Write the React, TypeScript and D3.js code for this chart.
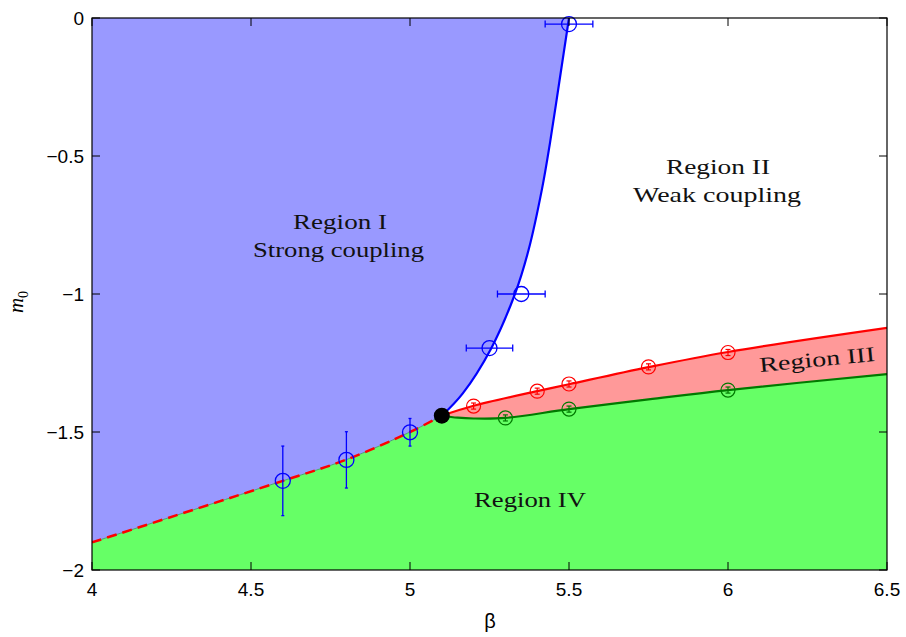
import React from "react";
import * as d3 from "d3";

// ---- data ----
const xTicks = [4, 4.5, 5, 5.5, 6, 6.5];
const yTicks = [0, -0.5, -1, -1.5, -2];

// boundary between Region I and Region IV (strong coupling side)
const leftBoundaryBeta = [4, 4.6, 4.8, 5.0, 5.1];
const leftBoundaryM = [-1.9, -1.677, -1.6, -1.5, -1.441];

// boundary between Region I and Region II
const blueBeta = [5.1, 5.166, 5.254, 5.33, 5.373, 5.415, 5.44, 5.472, 5.5];
const blueM = [-1.441, -1.36, -1.2, -1.0, -0.84, -0.62, -0.454, -0.213, 0];

// boundary between Region II and Region III
const redBeta = [5.1, 5.2, 5.4, 5.5, 5.75, 6.0, 6.5];
const redM = [-1.441, -1.405, -1.352, -1.327, -1.265, -1.21, -1.123];

// boundary between Region III and Region IV
const greenBeta = [5.1, 5.15, 5.2, 5.3, 5.5, 5.75, 6.0, 6.5];
const greenM = [-1.441, -1.448, -1.451, -1.449, -1.417, -1.382, -1.348, -1.29];

// blue data points with horizontal errors
const blueHBeta = [5.5, 5.35, 5.25];
const blueHM = [-0.022, -1.0, -1.196];
const blueHErr = [0.075, 0.075, 0.073];

// blue data points with vertical errors
const blueVBeta = [4.6, 4.8, 5.0];
const blueVM = [-1.677, -1.601, -1.501];
const blueVErr = [0.126, 0.102, 0.05];

// red data points
const redPtBeta = [5.2, 5.4, 5.5, 5.75, 6.0];
const redPtM = [-1.406, -1.352, -1.326, -1.264, -1.212];
const redPtErr = [0.011, 0.011, 0.011, 0.011, 0.011];

// green data points
const greenPtBeta = [5.3, 5.5, 6.0];
const greenPtM = [-1.449, -1.417, -1.348];
const greenPtErr = [0.011, 0.011, 0.011];

// critical point
const critBeta = 5.1;
const critM = -1.441;

// ---- layout ----
const W = 906, H = 637;
const L = 92, R = 887, T = 18, B = 570;

const x = d3.scaleLinear().domain([4, 6.5]).range([L, R]);
const y = d3.scaleLinear().domain([-2, 0]).range([B, T]);

const zip = (a: number[], b: number[]) => a.map((v, i) => [v, b[i]] as [number, number]);
const line = d3
  .line<[number, number]>()
  .x((d) => x(d[0]))
  .y((d) => y(d[1]))
  .curve(d3.curveCatmullRom.alpha(0.5));
const cont = (pts: [number, number][]) => (line(pts) || "").replace(/^M/, "L");

const leftPts = zip(leftBoundaryBeta, leftBoundaryM);
const bluePts = zip(blueBeta, blueM);
const redPts = zip(redBeta, redM);
const greenPts = zip(greenBeta, greenM);

const region1 =
  `M${x(4)},${y(0)}` + cont(leftPts) + cont(bluePts) + "Z";
const region4 =
  `M${x(4)},${y(-2)}` + cont(leftPts) + cont(greenPts) + `L${x(6.5)},${y(-2)}Z`;
const region3 =
  (line(redPts) || "") + cont([...greenPts].reverse()) + "Z";

const serif = "'Liberation Serif', 'DejaVu Serif', serif";
const sans = "'Liberation Sans', Arial, Helvetica, sans-serif";

export default function App() {
  const tickLen = 8;
  return (
    <svg
      width={W}
      height={H}
      style={{ position: "absolute", left: 0, top: 0, background: "#fff" }}
    >
      <defs>
        <clipPath id="plot">
          <rect x={L} y={T} width={R - L} height={B - T} />
        </clipPath>
      </defs>
      <rect x={0} y={0} width={W} height={H} fill="#fff" />
      <g clipPath="url(#plot)">
        <path d={region1} fill="#9999ff" />
        <path d={region4} fill="#66ff66" />
        <path d={region3} fill="#ff9999" />
        <path d={line(leftPts) || ""} fill="none" stroke="#4c9a7a" strokeWidth={1} />
        <path
          d={line(leftPts) || ""}
          fill="none"
          stroke="#ff0000"
          strokeWidth={2.5}
          strokeDasharray="10,6"
        />
        <path d={line(greenPts) || ""} fill="none" stroke="#007a00" strokeWidth={2.2} />
        <path d={line(redPts) || ""} fill="none" stroke="#ff0000" strokeWidth={2.2} />
        <path d={line(bluePts) || ""} fill="none" stroke="#0000ff" strokeWidth={2.2} />
      </g>

      {/* blue horizontal error bars */}
      {blueHBeta.map((b, i) => {
        const cy = y(blueHM[i]);
        const x0 = x(b - blueHErr[i]);
        const x1 = x(b + blueHErr[i]);
        return (
          <g key={"bh" + i} stroke="#0000ff" strokeWidth={1.3} fill="none">
            <line x1={x0} x2={x1} y1={cy} y2={cy} />
            <line x1={x0} x2={x0} y1={cy - 3.5} y2={cy + 3.5} />
            <line x1={x1} x2={x1} y1={cy - 3.5} y2={cy + 3.5} />
            <circle cx={x(b)} cy={cy} r={7.5} />
          </g>
        );
      })}
      {/* blue vertical error bars */}
      {blueVBeta.map((b, i) => {
        const cx = x(b);
        const y0 = y(blueVM[i] - blueVErr[i]);
        const y1 = y(blueVM[i] + blueVErr[i]);
        return (
          <g key={"bv" + i} stroke="#0000ff" strokeWidth={1.3} fill="none">
            <line x1={cx} x2={cx} y1={y0} y2={y1} />
            <line x1={cx - 1.5} x2={cx + 1.5} y1={y0} y2={y0} />
            <line x1={cx - 1.5} x2={cx + 1.5} y1={y1} y2={y1} />
            <circle cx={cx} cy={y(blueVM[i])} r={7.5} />
          </g>
        );
      })}
      {/* red points */}
      {redPtBeta.map((b, i) => {
        const cx = x(b);
        const y0 = y(redPtM[i] - redPtErr[i]);
        const y1 = y(redPtM[i] + redPtErr[i]);
        return (
          <g key={"r" + i} stroke="#ff0000" strokeWidth={1.2} fill="none">
            <line x1={cx} x2={cx} y1={y0} y2={y1} />
            <line x1={cx - 2.5} x2={cx + 2.5} y1={y0} y2={y0} />
            <line x1={cx - 2.5} x2={cx + 2.5} y1={y1} y2={y1} />
            <circle cx={cx} cy={y(redPtM[i])} r={7} />
          </g>
        );
      })}
      {/* green points */}
      {greenPtBeta.map((b, i) => {
        const cx = x(b);
        const y0 = y(greenPtM[i] - greenPtErr[i]);
        const y1 = y(greenPtM[i] + greenPtErr[i]);
        return (
          <g key={"g" + i} stroke="#007a00" strokeWidth={1.2} fill="none">
            <line x1={cx} x2={cx} y1={y0} y2={y1} />
            <line x1={cx - 2.5} x2={cx + 2.5} y1={y0} y2={y0} />
            <line x1={cx - 2.5} x2={cx + 2.5} y1={y1} y2={y1} />
            <circle cx={cx} cy={y(greenPtM[i])} r={7} />
          </g>
        );
      })}
      <circle cx={x(critBeta)} cy={y(critM)} r={8} fill="#000" />

      {/* region labels */}
      <g fontFamily={serif} fontSize={21} fill="#111">
        <text x={293} y={229} textLength={94} lengthAdjust="spacingAndGlyphs">Region I</text>
        <text x={253} y={257} textLength={171} lengthAdjust="spacingAndGlyphs">Strong coupling</text>
        <text x={666} y={174} textLength={104} lengthAdjust="spacingAndGlyphs">Region II</text>
        <text x={633} y={202} textLength={168} lengthAdjust="spacingAndGlyphs">Weak coupling</text>
        <text x={474} y={507} textLength={112} lengthAdjust="spacingAndGlyphs">Region IV</text>
        <text
          x={760}
          y={372}
          transform="rotate(-5.5 760 372)"
          textLength={116}
          lengthAdjust="spacingAndGlyphs"
        >
          Region III
        </text>
      </g>

      {/* frame */}
      <rect x={L} y={T} width={R - L} height={B - T} fill="none" stroke="#000" strokeWidth={1.2} />
      {/* ticks */}
      <g stroke="#000" strokeWidth={1}>
        {xTicks.map((t) => (
          <g key={"xt" + t}>
            <line x1={x(t)} x2={x(t)} y1={B} y2={B - tickLen} />
            <line x1={x(t)} x2={x(t)} y1={T} y2={T + tickLen} />
          </g>
        ))}
        {yTicks.map((t) => (
          <g key={"yt" + t}>
            <line x1={L} x2={L + tickLen} y1={y(t)} y2={y(t)} />
            <line x1={R} x2={R - tickLen} y1={y(t)} y2={y(t)} />
          </g>
        ))}
      </g>
      <g fontFamily={sans} fontSize={19} fill="#000">
        {xTicks.map((t) => (
          <text key={"xl" + t} x={x(t)} y={B + 26} textAnchor="middle">
            {String(t)}
          </text>
        ))}
        {yTicks.map((t) => (
          <text key={"yl" + t} x={L - 8} y={y(t) + 7} textAnchor="end">
            {t === 0 ? "0" : "\u2212" + String(Math.abs(t))}
          </text>
        ))}
      </g>
      <text x={490} y={628} textAnchor="middle" fontFamily={sans} fontSize={20}>
        β
      </text>
      <text
        transform="translate(23,302) rotate(-90)"
        textAnchor="middle"
        fontFamily={serif}
        fontSize={21}
      >
        <tspan fontStyle="italic">m</tspan>
        <tspan fontSize={14} dy={5}>0</tspan>
      </text>
    </svg>
  );
}
